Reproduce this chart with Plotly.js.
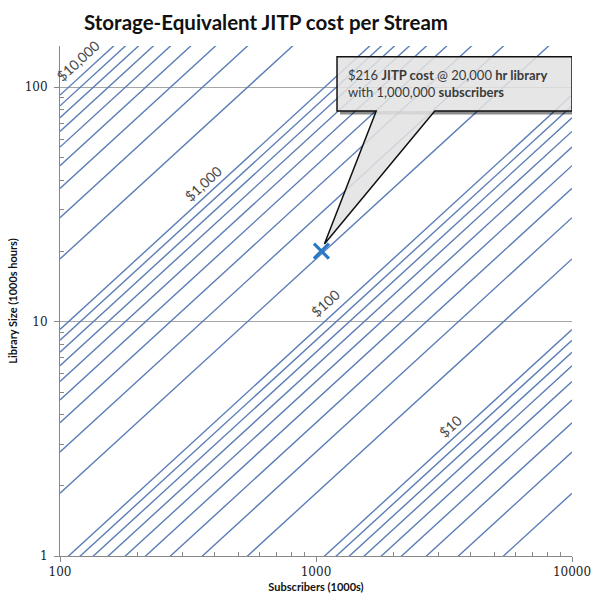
<!DOCTYPE html>
<html><head><meta charset="utf-8">
<script src="https://cdn.plot.ly/plotly-3.0.1.min.js"></script>
<style>html,body{margin:0;padding:0;background:#fff}#chart{width:592px;height:595px}</style>
</head><body><div id="chart"></div>
<script>
// Iso-cost lines: JITP cost per stream ($)
const costLevels = [2,3,4,5,6,7,8,9,
                    10,20,30,40,50,60,70,80,90,
                    100,200,300,400,500,600,700,800,900,
                    1000,2000,3000,4000,5000,6000,7000,8000,9000,
                    10000];
const costDivisor = 10800;            // $216 at 20 (1000s hr) library, 1000 (1000s) subscribers
const subscriberSpan = [100, 10000];  // x extent of every iso-cost line

// Line labels
const labelTexts = ['$10,000', '$1,000', '$100', '$10'];
const labelSubscribers = [117.9, 361.6, 1082, 3331];
const labelLibrary = [129.9, 39.0, 12.0, 3.58];

// Highlighted point
const pointSubscribers = [1050];
const pointLibrary = [20];
const calloutText = '$216 <b>JITP cost</b> @ 20,000 <b>hr library</b><br>with 1,000,000 <b>subscribers</b>';

// Axis ticks
const xTickVals = [100, 1000, 10000];
const xTickText = ['100', '1000', '10000'];
const xMinorVals = [200,300,400,500,600,700,800,900,2000,3000,4000,5000,6000,7000,8000,9000];
const yTickVals = [1, 10, 100];
const yTickText = ['1', '10', '100'];
const yMinorVals = [2,3,4,5,6,7,8,9,20,30,40,50,60,70,80,90];

const traces = costLevels.map(c => ({
  type: 'scatter', mode: 'lines',
  x: subscriberSpan.slice(),
  y: subscriberSpan.map(s => c * s / costDivisor),
  line: {color: '#5a7db5', width: 1.4},
  hoverinfo: 'skip', showlegend: false
}));
traces.push({
  type: 'scatter', mode: 'markers',
  x: pointSubscribers, y: pointLibrary,
  marker: {symbol: 'x-thin', size: 15, line: {width: 3.2, color: '#2a78c6'}},
  hoverinfo: 'skip', showlegend: false
});

const labelFont = {family: 'Lato, sans-serif', size: 14, color: '#4a4a4a'};
const annotations = labelTexts.map((t, i) => ({
  text: t, x: Math.log10(labelSubscribers[i]), y: Math.log10(labelLibrary[i]),
  xref: 'x', yref: 'y', showarrow: false, textangle: -42.4,
  font: labelFont, xanchor: 'center', yanchor: 'middle'
}));
annotations.push({
  text: calloutText, xref: 'paper', yref: 'paper',
  x: (346 - 60) / 512, y: (555.7 - 83) / 509.7,
  xanchor: 'left', yanchor: 'middle', align: 'left', showarrow: false,
  font: {family: 'Lato, sans-serif', size: 13, color: '#3a3a3a'}
});

// Callout path in pixels relative to the highlighted point (y up)
const bx0 = 15.6, bx1 = 250.6, by0 = 140, by1 = 194.3;
const calloutPath = `M ${bx0} ${by1} L ${bx1} ${by1} L ${bx1} ${by0} L 113.3 ${by0} L 3 7 L 54.8 ${by0} L ${bx0} ${by0} Z`;
const shapes = [
  {type: 'rect', xref: 'x', yref: 'y', xsizemode: 'pixel', ysizemode: 'pixel',
   xanchor: pointSubscribers[0], yanchor: pointLibrary[0],
   x0: bx1, x1: bx1 + 3.5, y0: by0 - 3.5, y1: by1 - 3, fillcolor: 'rgba(0,0,0,0.45)', line: {width: 0}},
  {type: 'rect', xref: 'x', yref: 'y', xsizemode: 'pixel', ysizemode: 'pixel',
   xanchor: pointSubscribers[0], yanchor: pointLibrary[0],
   x0: bx0 + 3, x1: bx1 + 3.5, y0: by0 - 3.5, y1: by0, fillcolor: 'rgba(0,0,0,0.45)', line: {width: 0}},
  {type: 'path', xref: 'x', yref: 'y', xsizemode: 'pixel', ysizemode: 'pixel',
   xanchor: pointSubscribers[0], yanchor: pointLibrary[0],
   path: calloutPath, fillcolor: 'rgba(226,226,226,0.86)', line: {color: '#111', width: 1.5}}
];

const tickFont = {family: '"DejaVu Serif", serif', size: 12, color: '#222'};
const layout = {
  width: 592, height: 595,
  margin: {l: 60, r: 20, t: 46, b: 39},
  paper_bgcolor: '#fff', plot_bgcolor: '#fff',
  title: {text: 'Storage-Equivalent JITP cost per Stream', x: 266 / 592, xref: 'container', xanchor: 'center',
          y: 1 - 23 / 595, yref: 'container', yanchor: 'middle',
          font: {family: 'Lato, sans-serif', size: 20.5, color: '#111', weight: 'bold'}},
  xaxis: {type: 'log', range: [2, 4], showgrid: false, zeroline: false,
          showline: true, linecolor: '#888', linewidth: 1,
          tickmode: 'array', tickvals: xTickVals, ticktext: xTickText,
          ticks: 'outside', ticklen: 5, tickcolor: '#888', tickfont: tickFont,
          minor: {tickmode: 'array', tickvals: xMinorVals, ticks: 'inside', ticklen: 4, tickcolor: '#888', showgrid: false},
          title: {text: '<b>Subscribers (1000s)</b>', font: {family: 'Lato, sans-serif', size: 11, color: '#111'}, standoff: 4},
          fixedrange: true},
  yaxis: {type: 'log', range: [0, Math.log10(150)], showgrid: true, gridcolor: '#a6a6a6', gridwidth: 1, zeroline: false,
          showline: true, linecolor: '#888', linewidth: 1,
          tickmode: 'array', tickvals: yTickVals, ticktext: yTickText,
          ticks: 'outside', ticklen: 5, tickcolor: '#888', tickfont: tickFont, ticklabelstandoff: 4,
          minor: {tickmode: 'array', tickvals: yMinorVals, ticks: 'inside', ticklen: 4, tickcolor: '#888', showgrid: false},
          title: {text: '<b>Library Size (1000s hours)</b>', font: {family: 'Lato, sans-serif', size: 11, color: '#111'}, standoff: 4},
          fixedrange: true},
  annotations: annotations,
  shapes: shapes
};

Plotly.newPlot('chart', traces, layout, {displayModeBar: false, staticPlot: true});
</script>
</body></html>
